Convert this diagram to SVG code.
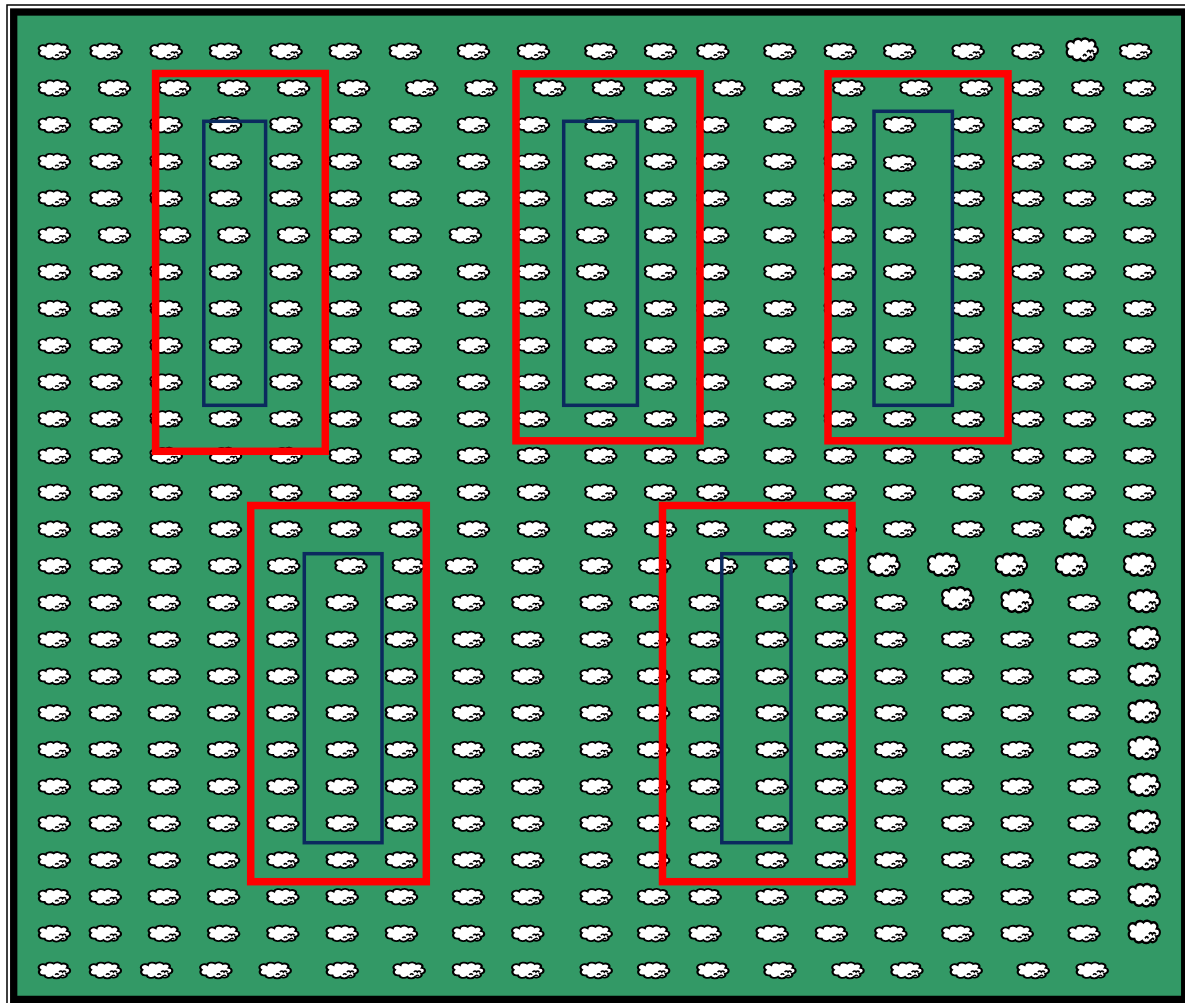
<svg xmlns="http://www.w3.org/2000/svg" xmlns:xlink="http://www.w3.org/1999/xlink" width="1185" height="1003" viewBox="0 0 1185 1003">
<defs>
<style>
.red{fill:none;stroke:#ff0000;stroke-width:7.5}
.blue{fill:none;stroke:#0b2a5e;stroke-width:3.5}
</style>
<g id="s">
<g transform="scale(1.12,0.95)">
<path d="M-10.5,5 a3.5,3.5 0 0 1 -2.5,-6 a3.5,3 0 0 1 5,-5 a4,3 0 0 1 7,-1.5 a4,3 0 0 1 7,0.5 a3.5,3 0 0 1 5,4 a3,3 0 0 1 -0.5,6 a3.5,3 0 0 1 -5.5,3.5 a4,3 0 0 1 -7,0 a4,3 0 0 1 -7,-1.5 z" fill="#fff" stroke="#000" stroke-width="1.9"/>
<path d="M0.5,4.5 q1.5,-2.4 3,0 M4,1.5 q1.5,-2.4 3,0 q1.5,-2.4 3,0 M5.5,6 q1.5,-2.4 3,-0.5" fill="none" stroke="#000" stroke-width="1.5"/>
</g>
</g>
<g id="b" transform="scale(1.0,1.4)"><use href="#s"/></g>
</defs>
<rect x="0" y="0" width="1185" height="1003" fill="#fff"/>
<g id="frame">
<rect x="7" y="5" width="1190" height="1010" fill="none" stroke="#000" stroke-width="1.5"/>
<rect x="13.7" y="12" width="1171" height="987.4" fill="#339966" stroke="#000" stroke-width="7.3"/>
</g>
<g id="sheep">
<g transform="translate(0,51.7)"><use href="#s" x="54.7"/><use href="#s" x="106.4"/><use href="#s" x="166.5"/><use href="#s" x="225.8"/><use href="#s" x="286.3"/><use href="#s" x="345.6"/><use href="#s" x="405.6"/><use href="#s" x="473.8"/><use href="#s" x="533.8"/><use href="#s" x="601.1"/><use href="#s" x="660.8"/><use href="#s" x="713.2"/><use href="#s" x="780.2"/><use href="#s" x="840.6"/><use href="#s" x="900"/><use href="#s" x="968.5"/><use href="#s" x="1028.2"/><use href="#b" x="1082.5" y="-1.5"/><use href="#s" x="1136"/></g>
<g transform="translate(0,88.5)"><use href="#s" x="54.7"/><use href="#s" x="114.8"/><use href="#s" x="174.9"/><use href="#s" x="234.2"/><use href="#s" x="293.9"/><use href="#s" x="354"/><use href="#s" x="422.1"/><use href="#s" x="481.4"/><use href="#s" x="549.9"/><use href="#s" x="608.7"/><use href="#s" x="660.8"/><use href="#s" x="729.3"/><use href="#s" x="788.6"/><use href="#s" x="849.1"/><use href="#s" x="916.4"/><use href="#s" x="976.5"/><use href="#s" x="1028.2"/><use href="#s" x="1088.2"/><use href="#s" x="1139.9"/></g>
<g transform="translate(0,125.2)"><use href="#s" x="54.7"/><use href="#s" x="106.4"/><use href="#s" x="166.5"/><use href="#s" x="225.8"/><use href="#s" x="286.3"/><use href="#s" x="345.6"/><use href="#s" x="405.6"/><use href="#s" x="473.8"/><use href="#s" x="533.8"/><use href="#s" x="601.1"/><use href="#s" x="660.8"/><use href="#s" x="713.2"/><use href="#s" x="780.2"/><use href="#s" x="840.6"/><use href="#s" x="900"/><use href="#s" x="968.5"/><use href="#s" x="1028.2"/><use href="#s" x="1080"/><use href="#s" x="1140"/></g>
<g transform="translate(0,162)"><use href="#s" x="54.7"/><use href="#s" x="106.4"/><use href="#s" x="166.5"/><use href="#s" x="225.8"/><use href="#s" x="286.3"/><use href="#s" x="345.6"/><use href="#s" x="405.6"/><use href="#s" x="473.8"/><use href="#s" x="533.8"/><use href="#s" x="601.1"/><use href="#s" x="660.8"/><use href="#s" x="713.2"/><use href="#s" x="780.2"/><use href="#s" x="840.6"/><use href="#s" x="900" y="1.5"/><use href="#s" x="968.5"/><use href="#s" x="1028.2"/><use href="#s" x="1080"/><use href="#s" x="1140"/></g>
<g transform="translate(0,198.7)"><use href="#s" x="54.7"/><use href="#s" x="106.4"/><use href="#s" x="166.5"/><use href="#s" x="225.8"/><use href="#s" x="286.3"/><use href="#s" x="345.6"/><use href="#s" x="405.6"/><use href="#s" x="473.8"/><use href="#s" x="533.8"/><use href="#s" x="601.1"/><use href="#s" x="660.8"/><use href="#s" x="713.2"/><use href="#s" x="780.2"/><use href="#s" x="840.6"/><use href="#s" x="900"/><use href="#s" x="968.5"/><use href="#s" x="1028.2"/><use href="#s" x="1080"/><use href="#s" x="1140"/></g>
<g transform="translate(0,235.5)"><use href="#s" x="54.7"/><use href="#s" x="114.8"/><use href="#s" x="174.9"/><use href="#s" x="234.2"/><use href="#s" x="293.9"/><use href="#s" x="345.6"/><use href="#s" x="405.6"/><use href="#s" x="465.7"/><use href="#s" x="533.8"/><use href="#s" x="593"/><use href="#s" x="660.8"/><use href="#s" x="713.2"/><use href="#s" x="780.2"/><use href="#s" x="840.6"/><use href="#s" x="900"/><use href="#s" x="968.5"/><use href="#s" x="1028.2"/><use href="#s" x="1080"/><use href="#s" x="1140"/></g>
<g transform="translate(0,272.3)"><use href="#s" x="54.7"/><use href="#s" x="106.4"/><use href="#s" x="166.5"/><use href="#s" x="225.8"/><use href="#s" x="286.3"/><use href="#s" x="345.6"/><use href="#s" x="405.6"/><use href="#s" x="473.8"/><use href="#s" x="533.8"/><use href="#s" x="593"/><use href="#s" x="660.8"/><use href="#s" x="713.2"/><use href="#s" x="780.2"/><use href="#s" x="840.6"/><use href="#s" x="900"/><use href="#s" x="968.5"/><use href="#s" x="1028.2"/><use href="#s" x="1080"/><use href="#s" x="1140"/></g>
<g transform="translate(0,309)"><use href="#s" x="54.7"/><use href="#s" x="106.4"/><use href="#s" x="166.5"/><use href="#s" x="225.8"/><use href="#s" x="286.3"/><use href="#s" x="345.6"/><use href="#s" x="405.6"/><use href="#s" x="473.8"/><use href="#s" x="533.8"/><use href="#s" x="601.1"/><use href="#s" x="660.8"/><use href="#s" x="713.2"/><use href="#s" x="780.2"/><use href="#s" x="840.6"/><use href="#s" x="900"/><use href="#s" x="968.5"/><use href="#s" x="1028.2"/><use href="#s" x="1080"/><use href="#s" x="1140"/></g>
<g transform="translate(0,345.8)"><use href="#s" x="54.7"/><use href="#s" x="106.4"/><use href="#s" x="166.5"/><use href="#s" x="225.8"/><use href="#s" x="286.3"/><use href="#s" x="345.6"/><use href="#s" x="405.6"/><use href="#s" x="473.8"/><use href="#s" x="533.8"/><use href="#s" x="601.1"/><use href="#s" x="660.8"/><use href="#s" x="713.2"/><use href="#s" x="780.2"/><use href="#s" x="840.6"/><use href="#s" x="900"/><use href="#s" x="968.5"/><use href="#s" x="1028.2"/><use href="#s" x="1080"/><use href="#s" x="1140"/></g>
<g transform="translate(0,382.5)"><use href="#s" x="54.7"/><use href="#s" x="106.4"/><use href="#s" x="166.5"/><use href="#s" x="225.8"/><use href="#s" x="286.3"/><use href="#s" x="345.6"/><use href="#s" x="405.6"/><use href="#s" x="473.8"/><use href="#s" x="533.8"/><use href="#s" x="601.1"/><use href="#s" x="660.8"/><use href="#s" x="713.2"/><use href="#s" x="780.2"/><use href="#s" x="840.6"/><use href="#s" x="900"/><use href="#s" x="968.5"/><use href="#s" x="1028.2"/><use href="#s" x="1080"/><use href="#s" x="1140"/></g>
<g transform="translate(0,419.3)"><use href="#s" x="54.7"/><use href="#s" x="106.4"/><use href="#s" x="166.5"/><use href="#s" x="225.8"/><use href="#s" x="286.3"/><use href="#s" x="345.6"/><use href="#s" x="405.6"/><use href="#s" x="473.8"/><use href="#s" x="533.8"/><use href="#s" x="601.1"/><use href="#s" x="660.8"/><use href="#s" x="713.2"/><use href="#s" x="780.2"/><use href="#s" x="840.6"/><use href="#s" x="900"/><use href="#s" x="968.5"/><use href="#s" x="1028.2"/><use href="#s" x="1080"/><use href="#s" x="1140"/></g>
<g transform="translate(0,456.1)"><use href="#s" x="54.7"/><use href="#s" x="106.4"/><use href="#s" x="166.5"/><use href="#s" x="225.8"/><use href="#s" x="286.3"/><use href="#s" x="345.6"/><use href="#s" x="405.6"/><use href="#s" x="473.8"/><use href="#s" x="533.8"/><use href="#s" x="601.1"/><use href="#s" x="660.8"/><use href="#s" x="713.2"/><use href="#s" x="780.2"/><use href="#s" x="840.6"/><use href="#s" x="900"/><use href="#s" x="968.5"/><use href="#s" x="1028.2"/><use href="#s" x="1080"/><use href="#s" x="1140"/></g>
<g transform="translate(0,492.8)"><use href="#s" x="54.7"/><use href="#s" x="106.4"/><use href="#s" x="166.5"/><use href="#s" x="225.8"/><use href="#s" x="286.3"/><use href="#s" x="345.6"/><use href="#s" x="405.6"/><use href="#s" x="473.8"/><use href="#s" x="533.8"/><use href="#s" x="601.1"/><use href="#s" x="660.8"/><use href="#s" x="713.2"/><use href="#s" x="780.2"/><use href="#s" x="840.6"/><use href="#s" x="900"/><use href="#s" x="968.5"/><use href="#s" x="1028.2"/><use href="#s" x="1080"/><use href="#s" x="1140"/></g>
<g transform="translate(0,529.6)"><use href="#s" x="54.7"/><use href="#s" x="106.4"/><use href="#s" x="166.5"/><use href="#s" x="225.8"/><use href="#s" x="286.3"/><use href="#s" x="345.6"/><use href="#s" x="405.6"/><use href="#s" x="473.8"/><use href="#s" x="533.8"/><use href="#s" x="601.1"/><use href="#s" x="660.8"/><use href="#s" x="713.2"/><use href="#s" x="780.2"/><use href="#s" x="840.6"/><use href="#s" x="900"/><use href="#s" x="968.5"/><use href="#s" x="1028.2"/><use href="#b" x="1080" y="-2.5"/><use href="#s" x="1140"/></g>
<g transform="translate(0,566.3)"><use href="#s" x="54.7"/><use href="#s" x="106.4"/><use href="#s" x="165.3"/><use href="#s" x="225"/><use href="#s" x="284"/><use href="#s" x="351.3"/><use href="#s" x="408.7"/><use href="#s" x="461.9"/><use href="#s" x="528.1"/><use href="#s" x="596.5"/><use href="#s" x="655"/><use href="#s" x="722"/><use href="#s" x="781.3"/><use href="#s" x="833"/><use href="#b" x="884.3" y="-1"/><use href="#b" x="944" y="-1"/><use href="#b" x="1011.7" y="-1"/><use href="#b" x="1071.8" y="-1"/><use href="#b" x="1139.9" y="-1"/></g>
<g transform="translate(0,603.1)"><use href="#s" x="54.7"/><use href="#s" x="105.6"/><use href="#s" x="164.6"/><use href="#s" x="223.9"/><use href="#s" x="283.2"/><use href="#s" x="342.5"/><use href="#s" x="401.8"/><use href="#s" x="468.8"/><use href="#s" x="528.1"/><use href="#s" x="596.5"/><use href="#s" x="646.2"/><use href="#s" x="705.5"/><use href="#s" x="772.5"/><use href="#s" x="831.8"/><use href="#s" x="891.2"/><use href="#b" x="958.1" y="-4"/><use href="#b" x="1017.5" y="-1.5"/><use href="#s" x="1084.4"/><use href="#b" x="1144.5" y="-1.5"/></g>
<g transform="translate(0,639.9)"><use href="#s" x="54.7"/><use href="#s" x="105.6"/><use href="#s" x="164.6"/><use href="#s" x="223.9"/><use href="#s" x="283.2"/><use href="#s" x="342.5"/><use href="#s" x="401.8"/><use href="#s" x="468.8"/><use href="#s" x="528.1"/><use href="#s" x="596.5"/><use href="#s" x="653.9"/><use href="#s" x="705.5"/><use href="#s" x="772.5"/><use href="#s" x="831.8"/><use href="#s" x="891.2"/><use href="#s" x="958.1"/><use href="#s" x="1017.5"/><use href="#s" x="1084.4"/><use href="#b" x="1144.5" y="-1.5"/></g>
<g transform="translate(0,676.6)"><use href="#s" x="54.7"/><use href="#s" x="105.6"/><use href="#s" x="164.6"/><use href="#s" x="223.9"/><use href="#s" x="283.2"/><use href="#s" x="342.5"/><use href="#s" x="401.8"/><use href="#s" x="468.8"/><use href="#s" x="528.1"/><use href="#s" x="596.5"/><use href="#s" x="653.9"/><use href="#s" x="705.5"/><use href="#s" x="772.5"/><use href="#s" x="831.8"/><use href="#s" x="891.2"/><use href="#s" x="958.1"/><use href="#s" x="1017.5"/><use href="#s" x="1084.4"/><use href="#b" x="1144.5" y="-1.5"/></g>
<g transform="translate(0,713.4)"><use href="#s" x="54.7"/><use href="#s" x="105.6"/><use href="#s" x="164.6"/><use href="#s" x="223.9"/><use href="#s" x="283.2"/><use href="#s" x="342.5"/><use href="#s" x="401.8"/><use href="#s" x="468.8"/><use href="#s" x="528.1"/><use href="#s" x="596.5"/><use href="#s" x="653.9"/><use href="#s" x="705.5"/><use href="#s" x="772.5"/><use href="#s" x="831.8"/><use href="#s" x="891.2"/><use href="#s" x="958.1"/><use href="#s" x="1017.5"/><use href="#s" x="1084.4"/><use href="#b" x="1144.5" y="-1.5"/></g>
<g transform="translate(0,750.1)"><use href="#s" x="54.7"/><use href="#s" x="105.6"/><use href="#s" x="164.6"/><use href="#s" x="223.9"/><use href="#s" x="283.2"/><use href="#s" x="342.5"/><use href="#s" x="401.8"/><use href="#s" x="468.8"/><use href="#s" x="528.1"/><use href="#s" x="596.5"/><use href="#s" x="653.9"/><use href="#s" x="705.5"/><use href="#s" x="772.5"/><use href="#s" x="831.8"/><use href="#s" x="891.2"/><use href="#s" x="958.1"/><use href="#s" x="1017.5"/><use href="#s" x="1084.4"/><use href="#b" x="1144.5" y="-1.5"/></g>
<g transform="translate(0,786.9)"><use href="#s" x="54.7"/><use href="#s" x="105.6"/><use href="#s" x="164.6"/><use href="#s" x="223.9"/><use href="#s" x="283.2"/><use href="#s" x="342.5"/><use href="#s" x="401.8"/><use href="#s" x="468.8"/><use href="#s" x="528.1"/><use href="#s" x="596.5"/><use href="#s" x="653.9"/><use href="#s" x="705.5"/><use href="#s" x="772.5"/><use href="#s" x="831.8"/><use href="#s" x="891.2"/><use href="#s" x="958.1"/><use href="#s" x="1017.5"/><use href="#s" x="1084.4"/><use href="#b" x="1144.5" y="-1.5"/></g>
<g transform="translate(0,823.7)"><use href="#s" x="54.7"/><use href="#s" x="105.6"/><use href="#s" x="164.6"/><use href="#s" x="223.9"/><use href="#s" x="283.2"/><use href="#s" x="342.5"/><use href="#s" x="401.8"/><use href="#s" x="468.8"/><use href="#s" x="528.1"/><use href="#s" x="596.5"/><use href="#s" x="653.9"/><use href="#s" x="705.5"/><use href="#s" x="772.5"/><use href="#s" x="831.8"/><use href="#s" x="891.2"/><use href="#s" x="958.1"/><use href="#s" x="1017.5"/><use href="#s" x="1084.4"/><use href="#b" x="1144.5" y="-1.5"/></g>
<g transform="translate(0,860.4)"><use href="#s" x="54.7"/><use href="#s" x="105.6"/><use href="#s" x="164.6"/><use href="#s" x="223.9"/><use href="#s" x="283.2"/><use href="#s" x="342.5"/><use href="#s" x="401.8"/><use href="#s" x="468.8"/><use href="#s" x="528.1"/><use href="#s" x="596.5"/><use href="#s" x="653.9"/><use href="#s" x="705.5"/><use href="#s" x="772.5"/><use href="#s" x="831.8"/><use href="#s" x="891.2"/><use href="#s" x="958.1"/><use href="#s" x="1017.5"/><use href="#s" x="1084.4"/><use href="#b" x="1144.5" y="-1.5"/></g>
<g transform="translate(0,897.2)"><use href="#s" x="54.7"/><use href="#s" x="105.6"/><use href="#s" x="164.6"/><use href="#s" x="223.9"/><use href="#s" x="283.2"/><use href="#s" x="342.5"/><use href="#s" x="401.8"/><use href="#s" x="468.8"/><use href="#s" x="528.1"/><use href="#s" x="596.5"/><use href="#s" x="653.9"/><use href="#s" x="705.5"/><use href="#s" x="772.5"/><use href="#s" x="831.8"/><use href="#s" x="891.2"/><use href="#s" x="958.1"/><use href="#s" x="1017.5"/><use href="#s" x="1084.4"/><use href="#b" x="1144.5" y="-1.5"/></g>
<g transform="translate(0,933.9)"><use href="#s" x="54.7"/><use href="#s" x="105.6"/><use href="#s" x="164.6"/><use href="#s" x="223.9"/><use href="#s" x="283.2"/><use href="#s" x="342.5"/><use href="#s" x="401.8"/><use href="#s" x="468.8"/><use href="#s" x="528.1"/><use href="#s" x="596.5"/><use href="#s" x="653.9"/><use href="#s" x="705.5"/><use href="#s" x="772.5"/><use href="#s" x="831.8"/><use href="#s" x="891.2"/><use href="#s" x="958.1"/><use href="#s" x="1017.5"/><use href="#s" x="1084.4"/><use href="#b" x="1144.5" y="-1.5"/></g>
<g transform="translate(0,970.7)"><use href="#s" x="54.7"/><use href="#s" x="105.6"/><use href="#s" x="156.9"/><use href="#s" x="216.2"/><use href="#s" x="275.5"/><use href="#s" x="342.5"/><use href="#s" x="409.5"/><use href="#s" x="468.8"/><use href="#s" x="528.1"/><use href="#s" x="596.5"/><use href="#s" x="653.9"/><use href="#s" x="713.2"/><use href="#s" x="780.2"/><use href="#s" x="848.3"/><use href="#s" x="907.2"/><use href="#s" x="966.5"/><use href="#s" x="1033.5"/><use href="#s" x="1092.5"/></g>
</g>
<g id="enclosures">
<g id="pen1"><rect class="red" x="155.6" y="73.5" width="169.7" height="377.8"/><rect class="blue" x="203.8" y="121.3" width="61.8" height="284"/></g>
<g id="pen2"><rect class="red" x="516" y="73.8" width="184" height="367"/><rect class="blue" x="563.7" y="121.3" width="73.7" height="284"/></g>
<g id="pen3"><rect class="red" x="828" y="73.8" width="180" height="367"/><rect class="blue" x="874" y="111.3" width="78.4" height="294"/></g>
<g id="pen4"><rect class="red" x="250.7" y="505.5" width="175.6" height="376.2"/><rect class="blue" x="304.3" y="553.7" width="77.7" height="289"/></g>
<g id="pen5"><rect class="red" x="662.5" y="505.5" width="189.5" height="376.2"/><rect class="blue" x="721.8" y="553.7" width="69.2" height="289"/></g>
</g>
</svg>
